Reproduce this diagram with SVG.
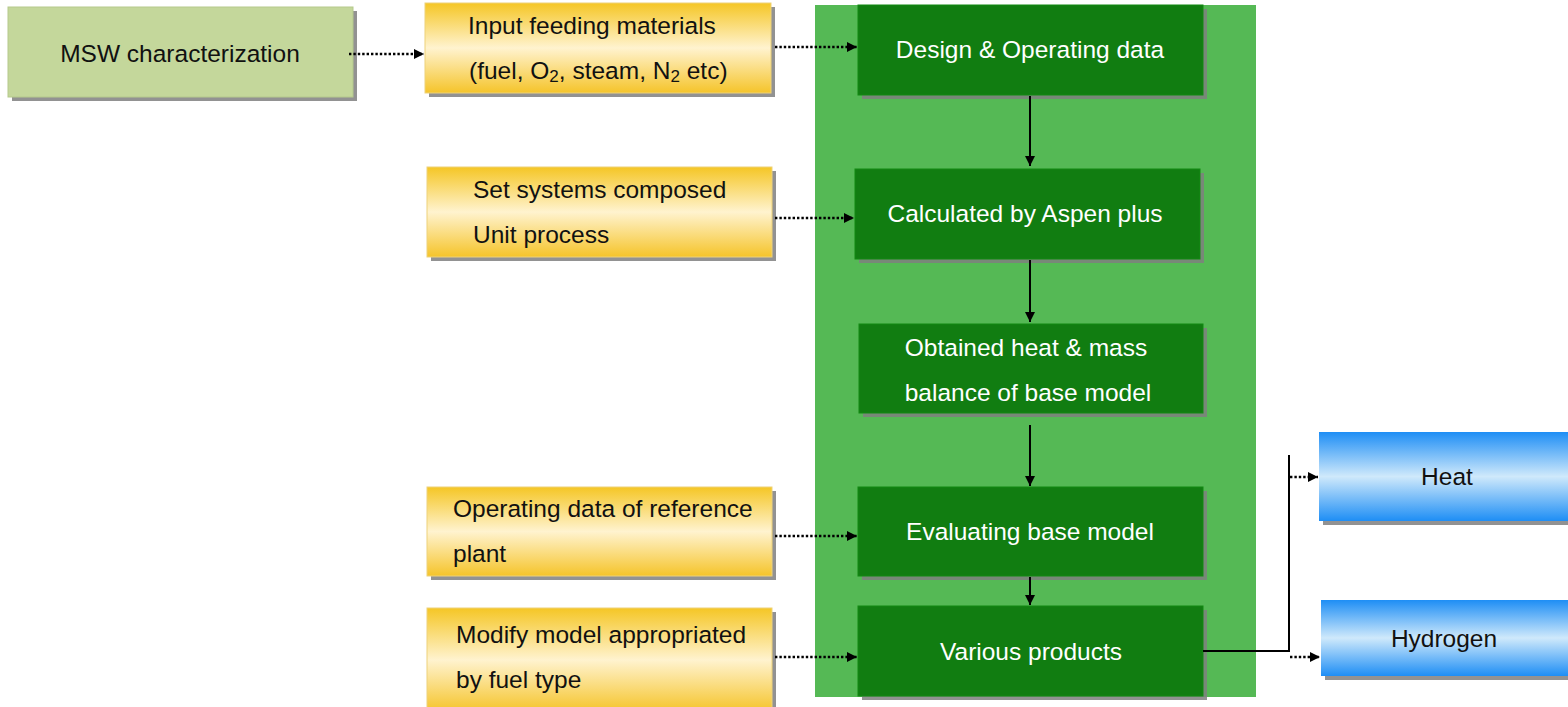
<svg xmlns="http://www.w3.org/2000/svg" width="1568" height="707" viewBox="0 0 1568 707">
  <defs>
    <linearGradient id="gold" x1="0" y1="0" x2="0" y2="1">
      <stop offset="0" stop-color="#f5c625"/>
      <stop offset="0.5" stop-color="#fff3cf"/>
      <stop offset="1" stop-color="#f5c42a"/>
    </linearGradient>
    <linearGradient id="sky" x1="0" y1="0" x2="0" y2="1">
      <stop offset="0" stop-color="#1e8ef5"/>
      <stop offset="0.5" stop-color="#cfe9fb"/>
      <stop offset="1" stop-color="#1e8ef5"/>
    </linearGradient>
    <marker id="head" viewBox="0 0 10 10" refX="10" refY="5" markerWidth="11" markerHeight="10" markerUnits="userSpaceOnUse" orient="auto">
      <path d="M0,0 L10,5 L0,10 Z" fill="#000"/>
    </marker>
    <style>
      .shadow { fill: #7f7f7f; opacity: 0.85; }
      .msw { fill: #c4d79b; stroke: #b5c98c; stroke-width: 1; }
      .input { fill: url(#gold); stroke: #edd27a; stroke-width: 1; }
      .step { fill: #117d11; stroke: #138a13; stroke-width: 1; }
      .product { fill: url(#sky); }
      .dark { font-family: "Liberation Sans", Arial, sans-serif; font-size: 24.5px; fill: #111; }
      .light { font-family: "Liberation Sans", Arial, sans-serif; font-size: 24.5px; fill: #fff; }
      .sub { font-size: 17px; }
      .dotted { fill: none; stroke: #000; stroke-width: 2.6; stroke-dasharray: 2.4 2; marker-end: url(#head); }
      .solid { fill: none; stroke: #000; stroke-width: 2; marker-end: url(#head); }
      .plain { fill: none; stroke: #000; stroke-width: 2; }
    </style>
  </defs>

  <rect width="1568" height="707" fill="#fff"/>

  <!-- simulation block background -->
  <rect id="simulation-panel" x="815" y="5" width="441" height="692" fill="#55b955"/>

  <g id="msw">
    <rect class="shadow" x="12" y="11" width="345" height="90"/>
    <rect class="msw" x="8" y="7" width="345" height="90"/>
    <text class="dark" x="180" y="62" text-anchor="middle">MSW characterization</text>
  </g>

  <g id="input-feeding">
    <rect class="shadow" x="429" y="7" width="346" height="90"/>
    <rect class="input" x="425" y="3" width="346" height="90"/>
    <text class="dark" x="468" y="34">Input feeding materials</text>
    <text class="dark" x="469" y="79">(fuel, O<tspan class="sub" dy="3">2</tspan><tspan dy="-3">, steam, N</tspan><tspan class="sub" dy="3">2</tspan><tspan dy="-3"> etc)</tspan></text>
  </g>

  <g id="set-systems">
    <rect class="shadow" x="431" y="171" width="345" height="90"/>
    <rect class="input" x="427" y="167" width="345" height="90"/>
    <text class="dark" x="473" y="198">Set systems composed</text>
    <text class="dark" x="473" y="243">Unit process</text>
  </g>

  <g id="reference-plant">
    <rect class="shadow" x="431" y="491" width="345" height="89"/>
    <rect class="input" x="427" y="487" width="345" height="89"/>
    <text class="dark" x="453" y="517">Operating data of reference</text>
    <text class="dark" x="453" y="562">plant</text>
  </g>

  <g id="modify-model">
    <rect class="shadow" x="431" y="612" width="345" height="100"/>
    <rect class="input" x="427" y="608" width="345" height="104"/>
    <text class="dark" x="456" y="643">Modify model appropriated</text>
    <text class="dark" x="456" y="688">by fuel type</text>
  </g>

  <g id="design-data">
    <rect class="shadow" x="862" y="9" width="345" height="90"/>
    <rect class="step" x="858" y="5" width="345" height="90"/>
    <text class="light" x="1030" y="58" text-anchor="middle">Design &amp; Operating data</text>
  </g>

  <g id="aspen-calc">
    <rect class="shadow" x="859" y="173" width="345" height="90"/>
    <rect class="step" x="855" y="169" width="345" height="90"/>
    <text class="light" x="1025" y="222" text-anchor="middle">Calculated by Aspen plus</text>
  </g>

  <g id="heat-mass-balance">
    <rect class="shadow" x="863" y="328" width="344" height="89"/>
    <rect class="step" x="859" y="324" width="344" height="89"/>
    <text class="light" x="1026" y="356" text-anchor="middle">Obtained heat &amp; mass</text>
    <text class="light" x="1028" y="401" text-anchor="middle">balance of base model</text>
  </g>

  <g id="evaluate-model">
    <rect class="shadow" x="862" y="491" width="345" height="89"/>
    <rect class="step" x="858" y="487" width="345" height="89"/>
    <text class="light" x="1030" y="540" text-anchor="middle">Evaluating base model</text>
  </g>

  <g id="products">
    <rect class="shadow" x="862" y="610" width="345" height="90"/>
    <rect class="step" x="858" y="606" width="345" height="90"/>
    <text class="light" x="1031" y="660" text-anchor="middle">Various products</text>
  </g>

  <g id="heat">
    <rect class="shadow" x="1323" y="436" width="250" height="89"/>
    <rect class="product" x="1319" y="432" width="250" height="89"/>
    <text class="dark" x="1447" y="485" text-anchor="middle">Heat</text>
  </g>

  <g id="hydrogen">
    <rect class="shadow" x="1325" y="604" width="250" height="76"/>
    <rect class="product" x="1321" y="600" width="250" height="76"/>
    <text class="dark" x="1444" y="647" text-anchor="middle">Hydrogen</text>
  </g>

  <g id="connectors">
    <line class="dotted" x1="349" y1="54" x2="424" y2="54"/>
    <line class="dotted" x1="775" y1="47" x2="857" y2="47"/>
    <line class="dotted" x1="775" y1="218" x2="854" y2="218"/>
    <line class="dotted" x1="775" y1="536" x2="857" y2="536"/>
    <line class="dotted" x1="775" y1="657" x2="857" y2="657"/>

    <line class="solid" x1="1030" y1="96" x2="1030" y2="166"/>
    <line class="solid" x1="1030" y1="260" x2="1030" y2="322"/>
    <line class="solid" x1="1030" y1="425" x2="1030" y2="486"/>
    <line class="solid" x1="1030" y1="577" x2="1030" y2="605"/>

    <polyline class="plain" points="1203,651 1289,651"/>
    <line class="plain" x1="1289" y1="455" x2="1289" y2="652"/>
    <line class="dotted" x1="1290" y1="477" x2="1318" y2="477"/>
    <line class="dotted" x1="1290" y1="657" x2="1320" y2="657"/>
  </g>
</svg>
